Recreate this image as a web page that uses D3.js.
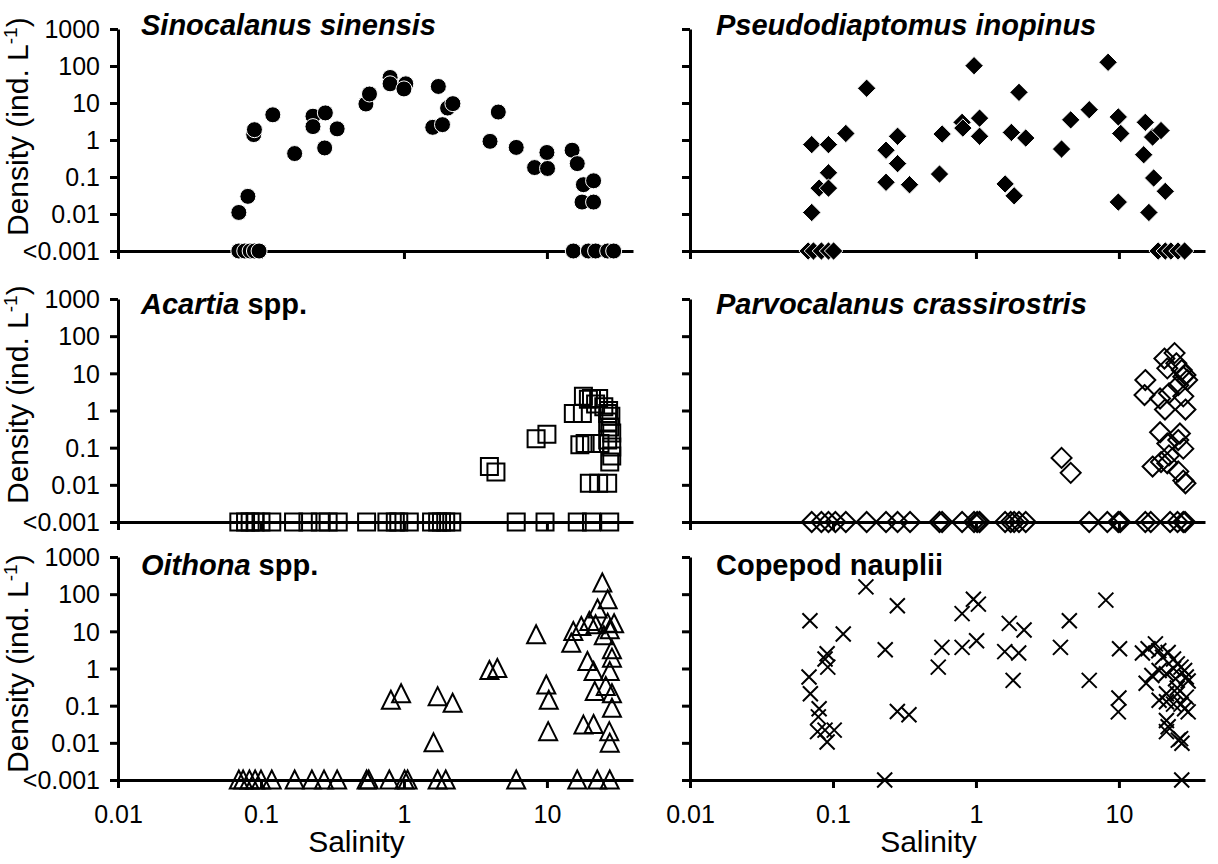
<!DOCTYPE html>
<html>
<head>
<meta charset="utf-8">
<script src="https://cdn.jsdelivr.net/npm/d3@7"></script>
<style>
  body { margin: 0; background: #fff; }
  text { font-family: "Liberation Sans", Arial, sans-serif; fill: #000; }
</style>
</head>
<body>
<svg id="chart" width="1218" height="864"></svg>
<script>
// ---- Axis ticks ----
const densTicks = [0.001, 0.01, 0.1, 1, 10, 100, 1000];
const densTickLabels = ["<0.001", "0.01", "0.1", "1", "10", "100", "1000"];
const salTicks = [0.01, 0.1, 1, 10];
const salTickLabels = ["0.01", "0.1", "1", "10"];

// ---- Sinocalanus sinensis (0 = below detection, drawn on the <0.001 line) ----
const sinoSal = [0.070, 0.081, 0.089, 0.090, 0.121, 0.172, 0.231, 0.231, 0.282, 0.279, 0.341,
  0.542, 0.574, 0.80, 0.80, 1.03, 1.0, 1.74, 1.59, 1.86, 2.02, 2.2, 4.0, 4.57, 6.1, 8.2,
  10.0, 10.1, 15.0, 16.3, 18.0, 17.6, 21.2, 21.2,
  0.070, 0.077, 0.084, 0.090, 0.097, 15.3, 19.5, 21.9, 26.6, 29.3];
const sinoDens = [0.011, 0.030, 1.4, 1.9, 4.8, 0.43, 4.4, 2.3, 5.4, 0.61, 2.0,
  9.4, 17.5, 49, 33, 33, 24, 28, 2.2, 2.6, 7.3, 9.6, 0.92, 5.7, 0.63, 0.18,
  0.46, 0.17, 0.53, 0.23, 0.062, 0.021, 0.079, 0.021,
  0, 0, 0, 0, 0, 0, 0, 0, 0, 0];

// ---- Pseudodiaptomus inopinus ----
const pseuSal = [0.071, 0.071, 0.080, 0.093, 0.093, 0.093, 0.123, 0.172, 0.235, 0.235, 0.283, 0.283,
  0.343, 0.556, 0.58, 0.80, 0.81, 0.97, 1.06, 1.06, 1.77, 2.0, 2.23, 1.6, 1.85, 3.97, 4.6, 6.2,
  8.4, 9.9, 10.3, 9.9, 15.3, 17.2, 19.7, 14.9, 17.5, 21.1, 16.2,
  0.067, 0.073, 0.083, 0.093, 0.101, 18.8, 21.1, 23.1, 25.9, 28.8];
const pseuDens = [0.75, 0.011, 0.050, 0.75, 0.13, 0.05, 1.5, 25, 0.53, 0.072, 1.26, 0.23,
  0.062, 0.12, 1.45, 3.0, 2.1, 102, 3.9, 1.26, 1.6, 19.4, 1.13, 0.065, 0.031, 0.57, 3.5, 6.6,
  126, 4.2, 1.5, 0.021, 3.0, 1.2, 1.8, 0.40, 0.094, 0.041, 0.011,
  0, 0, 0, 0, 0, 0, 0, 0, 0, 0];

// ---- Acartia spp. ----
const acarSal = [3.96, 4.4, 8.4, 10.0, 15.3, 17.7, 18.0, 19.5, 20.5, 21.9, 23.0, 25.0, 26.6, 26.6,
  27.5, 28.4, 17.0, 18.5, 20.5, 23.5, 26.6, 28.4, 27.5, 28.4, 19.8, 23.0, 26.6, 27.0, 28.0,
  0.070, 0.078, 0.084, 0.091, 0.10, 0.119, 0.169, 0.213, 0.26, 0.295, 0.347, 0.548, 0.76, 0.87,
  0.92, 1.09, 1.56, 1.72, 1.83, 1.96, 2.16, 6.1, 9.7, 16.3, 20.5, 27.5];
const acarDens = [0.031, 0.022, 0.175, 0.23, 0.83, 0.83, 2.4, 2.0, 2.1, 1.5, 2.1, 1.26, 0.83, 0.49,
  0.36, 0.25, 0.12, 0.13, 0.13, 0.13, 0.16, 0.104, 0.041, 0.06, 0.011, 0.011, 0.011, 1.0, 0.7,
  0, 0, 0, 0, 0, 0, 0, 0, 0, 0, 0, 0, 0, 0,
  0, 0, 0, 0, 0, 0, 0, 0, 0, 0, 0, 0];

// ---- Parvocalanus crassirostris ----
const parvSal = [3.97, 4.6, 15.3, 15.1, 20.8, 24.5, 21.8, 25.2, 27.5, 29.2, 30.0, 26.0, 28.2,
  19.4, 22.4, 21.0, 29.2, 28.2, 19.4, 21.8, 26.7, 26.0, 28.2, 17.2, 19.7, 22.4, 26.0, 28.2,
  29.2, 21.8,
  0.071, 0.083, 0.093, 0.104, 0.123, 0.172, 0.235, 0.283, 0.346, 0.556, 0.58, 0.80, 0.97, 1.02,
  1.06, 1.6, 1.75, 1.85, 2.0, 2.23, 6.2, 8.3, 9.9, 10.2, 15.3, 16.7, 22.8, 25.7, 28.2, 29.0];
const parvDens = [0.053, 0.021, 6.6, 2.6, 25, 35, 13.6, 18.6, 12.3, 9.0, 6.6, 4.8, 8.1,
  2.1, 2.9, 1.06, 1.06, 2.4, 0.26, 0.13, 0.24, 0.16, 0.094, 0.031, 0.041, 0.062, 0.023, 0.013,
  0.011, 0.038,
  0, 0, 0, 0, 0, 0, 0, 0, 0, 0, 0, 0, 0, 0,
  0, 0, 0, 0, 0, 0, 0, 0, 0, 0, 0, 0, 0, 0, 0, 0];

// ---- Oithona spp. ----
const oithSal = [0.81, 0.955, 1.61, 1.72, 2.19, 3.96, 4.5, 8.4, 9.9, 10.3, 10.2, 14.8, 15.3,
  17.4, 19.8, 21.9, 19.2, 21.2, 21.6, 18.0, 21.2, 22.6, 24.4, 26.6, 26.6, 27.5, 25.0, 28.5,
  28.5, 27.5, 25.8, 28.5, 28.5, 27.3, 27.5, 29.5,
  0.070, 0.075, 0.083, 0.091, 0.10, 0.119, 0.172, 0.227, 0.276, 0.341, 0.548, 0.567, 0.79,
  1.01, 1.06, 1.72, 1.96, 6.1, 16.3, 22.5, 27.5];
const oithDens = [0.14, 0.21, 0.010, 0.175, 0.116, 0.88, 1.0, 8.1, 0.36, 0.14, 0.02, 4.8, 9.9,
  13.5, 18.4, 15, 1.54, 0.83, 0.24, 0.03, 0.031, 40, 200, 71, 16.6, 11, 7.6, 3.2,
  1.9, 0.83, 0.33, 0.21, 0.085, 0.02, 0.0098, 16,
  0, 0, 0, 0, 0, 0, 0, 0, 0, 0, 0, 0, 0,
  0, 0, 0, 0, 0, 0, 0, 0];

// ---- Copepod nauplii ----
const naupSal = [0.069, 0.068, 0.0695, 0.080, 0.079, 0.078, 0.088, 0.091, 0.102, 0.091, 0.088,
  0.092, 0.118, 0.170, 0.232, 0.23, 0.282, 0.282, 0.34, 0.545, 0.578, 0.80, 0.80, 0.96, 1.04,
  1.01, 1.59, 1.71, 1.82, 1.99, 2.17, 3.9, 4.5, 6.2, 8.1, 10.1, 10.0, 9.9, 14.6, 16.0, 18.0,
  19.0, 15.5, 17.0, 19.1, 20.2, 22.1, 24.1, 25.6, 27.2, 28.8, 29.6, 30.5, 21.5, 24.9, 19.1,
  21.5, 21.5, 24.1, 25.6, 27.2, 28.8, 30.5, 29.6, 21.5, 22.1, 21.5, 26.0, 27.6, 27.0, 27.5,
  24.1, 25.6];
const naupDens = [19.3, 0.59, 0.21, 0.083, 0.05, 0.020, 0.022, 0.0105, 0.022, 2.5, 1.8,
  1.09, 8.5, 157, 3.2, 0, 49, 0.07, 0.057, 1.09, 3.7, 30, 3.7, 73, 54,
  5.6, 2.85, 16.4, 0.48, 2.6, 10.9, 3.7, 19.3, 0.48, 69, 3.4, 0.16, 0.068, 2.6, 3.4, 4.6,
  3.0, 0.40, 0.65, 0.88, 2.0, 2.7, 1.8, 1.33, 1.09, 0.88, 0.59, 0.46, 0.72, 0.53, 0.14,
  0.21, 0.127, 0.11, 0.21, 0.11, 0.083, 0.068, 0.17, 0.040, 0.027, 0.020, 0.0118, 0.0097, 0.013, 0,
  1.0, 0.3];

// ---- Layout ----
const svg = d3.select("#chart");
const colX = [[118, 633], [690, 1205]];
const rowY = [[251, 29], [522, 299], [780, 557]];
const titleBase = [35, 314, 575];
const yTitleStart = [236, 504, 773];

const panels = [
  { sal: sinoSal, dens: sinoDens, shape: "circle", col: 0, row: 0,
    title: [{ t: "Sinocalanus sinensis", it: true }] },
  { sal: pseuSal, dens: pseuDens, shape: "filledDiamond", col: 1, row: 0,
    title: [{ t: "Pseudodiaptomus inopinus", it: true }] },
  { sal: acarSal, dens: acarDens, shape: "square", col: 0, row: 1,
    title: [{ t: "Acartia", it: true }, { t: " spp.", it: false }] },
  { sal: parvSal, dens: parvDens, shape: "openDiamond", col: 1, row: 1,
    title: [{ t: "Parvocalanus crassirostris", it: true }] },
  { sal: oithSal, dens: oithDens, shape: "triangle", col: 0, row: 2,
    title: [{ t: "Oithona", it: true }, { t: " spp.", it: false }] },
  { sal: naupSal, dens: naupDens, shape: "cross", col: 1, row: 2,
    title: [{ t: "Copepod nauplii", it: false }] }
];

// Marker paths centred on (0,0)
const shapePath = {
  filledDiamond: "M0,-9.2L9.2,0L0,9.2L-9.2,0Z",
  openDiamond: "M0,-10L10,0L0,10L-10,0Z",
  square: "M-8.5,-8.5H8.5V8.5H-8.5Z",
  triangle: "M0,-9.5L9,8.5L-9,8.5Z",
  cross: "M-7.5,-7.5L7.5,7.5M-7.5,7.5L7.5,-7.5"
};

const floorVal = v => Math.max(v, 0.001);

panels.forEach(p => {
  const x = d3.scaleLog().domain([0.01, 40]).range(colX[p.col]);
  const y = d3.scaleLog().domain([0.001, 1000]).range(rowY[p.row]);
  const g = svg.append("g");
  const left = p.col === 0;
  const bottom = p.row === 2;

  // y axis
  const yAxis = d3.axisLeft(y).tickValues(densTicks).tickSize(8).tickSizeOuter(0).tickPadding(10)
    .tickFormat((d, i) => left ? densTickLabels[i] : "");
  const ya = g.append("g").attr("transform", `translate(${colX[p.col][0]},0)`).call(yAxis);

  // x axis along the <0.001 line
  const xAxis = d3.axisBottom(x).tickValues(salTicks).tickSize(8).tickSizeOuter(0).tickPadding(17)
    .tickFormat((d, i) => bottom ? salTickLabels[i] : "");
  const xa = g.append("g").attr("transform", `translate(0,${rowY[p.row][0]})`).call(xAxis);

  [ya, xa].forEach(a => {
    a.select(".domain").attr("stroke", "#000").attr("stroke-width", 3);
    a.selectAll(".tick line").attr("stroke", "#000").attr("stroke-width", 3);
    a.selectAll(".tick text").attr("fill", "#000").style("font-size", "25px")
      .style("font-family", '"Liberation Sans", Arial, sans-serif');
  });
  ya.selectAll(".tick text").attr("dy", "0.35em");

  // panel title
  const tt = g.append("text")
    .attr("x", colX[p.col][0] + (left ? 23 : 26))
    .attr("y", titleBase[p.row])
    .style("font-size", "29px").style("font-weight", "bold");
  p.title.forEach(s => tt.append("tspan").text(s.t).style("font-style", s.it ? "italic" : "normal"));

  // y title on the left column
  if (left) {
    const yt = g.append("text")
      .attr("transform", `translate(28,${yTitleStart[p.row]}) rotate(-90)`)
      .style("font-size", "30px");
    yt.append("tspan").text("Density (ind. L");
    yt.append("tspan").text("-1").style("font-size", "19px").attr("dy", "-11");
    yt.append("tspan").text(")").attr("dy", "11");
  }

  // x title under the bottom row
  if (bottom) {
    g.append("text")
      .attr("x", (colX[p.col][0] + colX[p.col][1]) / 2 - 19)
      .attr("y", 852)
      .attr("text-anchor", "middle")
      .style("font-size", "30px")
      .text("Salinity");
  }

  // points
  const pts = p.sal.map((s, i) => ({ s, d: p.dens[i] }));
  const m = g.append("g");
  if (p.shape === "circle") {
    m.selectAll("circle").data(pts).join("circle")
      .attr("cx", d => x(d.s)).attr("cy", d => y(floorVal(d.d)))
      .attr("r", 8).attr("fill", "#000").attr("stroke", "#fff").attr("stroke-width", 1);
  } else {
    const filled = p.shape === "filledDiamond";
    m.selectAll("path").data(pts).join("path")
      .attr("transform", d => `translate(${x(d.s)},${y(floorVal(d.d))})`)
      .attr("d", shapePath[p.shape])
      .attr("fill", filled ? "#000" : "none")
      .attr("stroke", filled ? "#fff" : "#000")
      .attr("stroke-width", filled ? 1 : 2);
  }
});
</script>
</body>
</html>
